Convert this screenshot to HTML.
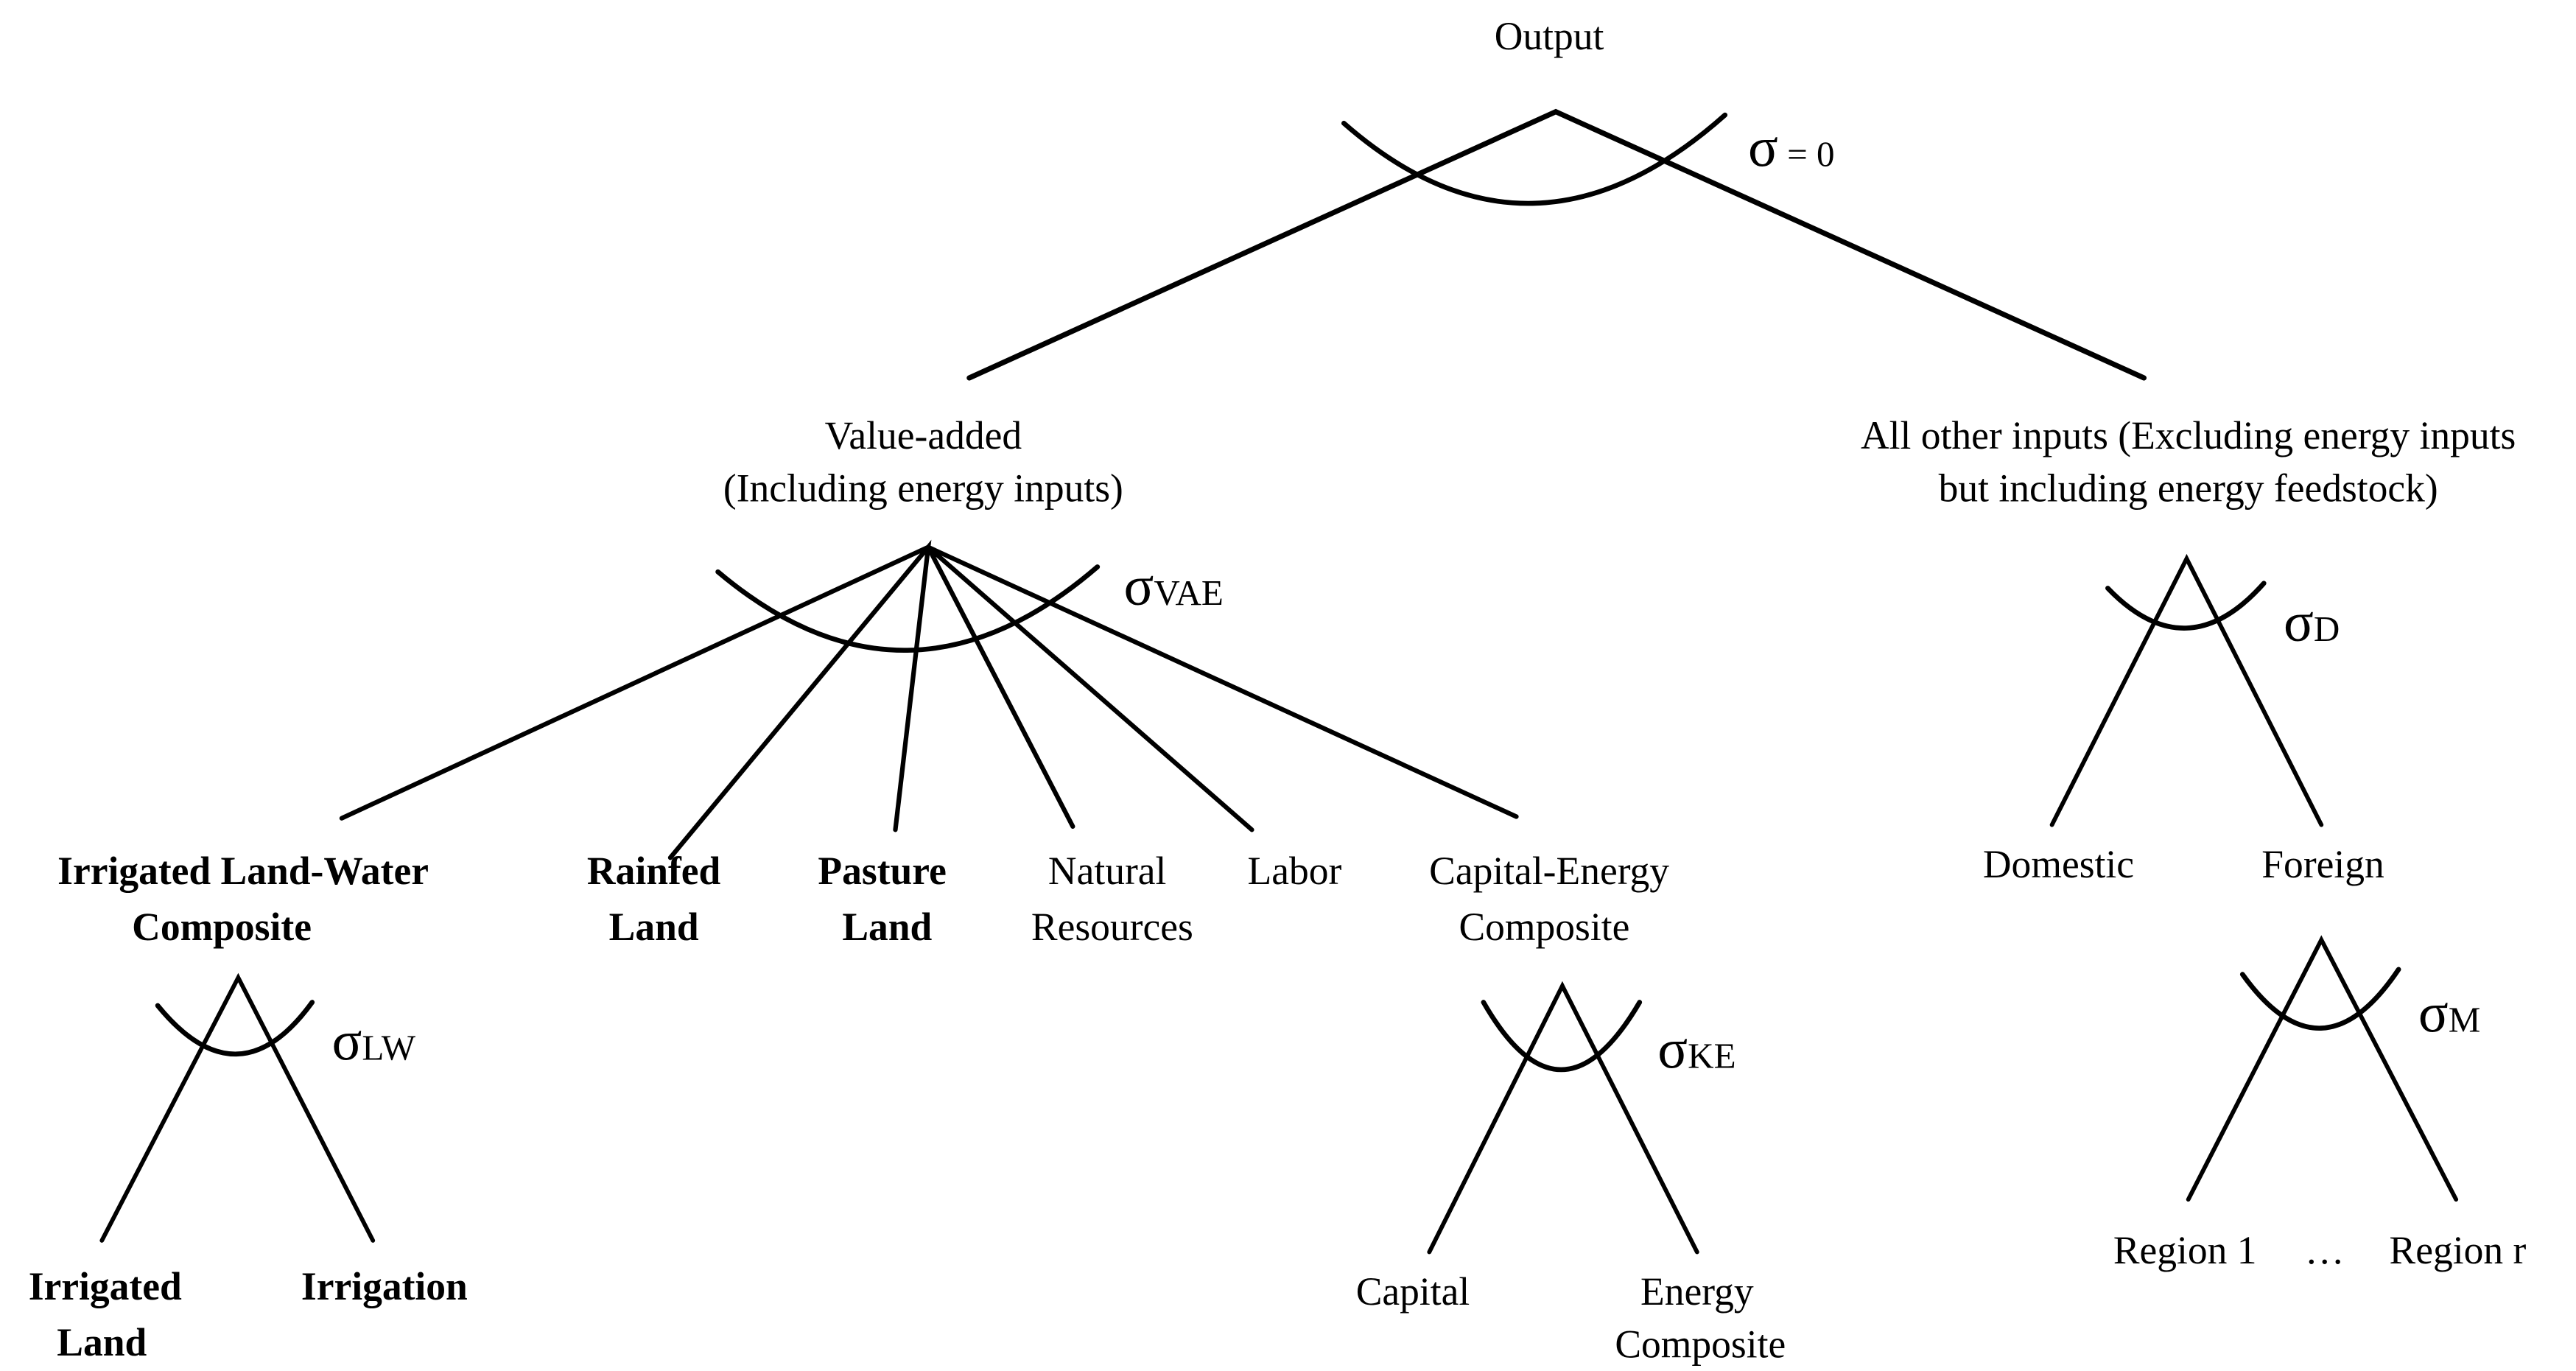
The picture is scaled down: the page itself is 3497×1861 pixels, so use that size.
<!DOCTYPE html>
<html><head><meta charset="utf-8"><style>
html,body{margin:0;padding:0;background:#fff;}
svg{display:block;}
text{font-family:"Liberation Serif",serif;fill:#000;}
.b{font-weight:bold;}
</style></head><body>
<svg width="3497" height="1861" viewBox="0 0 1568 834.4" preserveAspectRatio="none" xmlns="http://www.w3.org/2000/svg">
<g stroke="#000" fill="none" stroke-linecap="round">
<!-- top -->
<path d="M590,230 L947,68 L1305,230" stroke-width="3.2"/>
<path d="M818,75 Q932,175 1050,70" stroke-width="3"/>
<!-- VAE -->
<g stroke-width="2.8">
<path d="M208,498 L565,333 L923,497"/>
<path d="M408,522 L565,333 L545,505"/>
<path d="M653,503 L565,333 L762,505"/>
</g>
<path d="M437,348 Q552,445 668,345" stroke-width="3"/>
<!-- D -->
<path d="M1249,502 L1331,340 L1413,502" stroke-width="2.6"/>
<path d="M1283,358 Q1331,408 1378,355" stroke-width="3"/>
<!-- M -->
<path d="M1332,730 L1413,572 L1495,730" stroke-width="2.6"/>
<path d="M1365,593 Q1413,660 1460,590" stroke-width="3"/>
<!-- LW -->
<path d="M62,755 L145,595 L227,755" stroke-width="2.6"/>
<path d="M96,612 Q145,672 190,610" stroke-width="3"/>
<!-- KE -->
<path d="M870,762 L951,600 L1033,762" stroke-width="2.6"/>
<path d="M903,610 Q950,692 998,610" stroke-width="3"/>
</g>
<g font-size="24" text-anchor="middle">
<text x="943" y="30">Output</text>
<text x="562" y="273">Value-added</text>
<text x="562" y="305">(Including energy inputs)</text>
<text x="1332" y="273">All other inputs (Excluding energy inputs</text>
<text x="1332" y="305">but including energy feedstock)</text>
<text class="b" x="148" y="538">Irrigated Land-Water</text>
<text class="b" x="135" y="572">Composite</text>
<text class="b" x="398" y="538">Rainfed</text>
<text class="b" x="398" y="572">Land</text>
<text class="b" x="537" y="538">Pasture</text>
<text class="b" x="540" y="572">Land</text>
<text x="674" y="538">Natural</text>
<text x="677" y="572">Resources</text>
<text x="788" y="538">Labor</text>
<text x="943" y="538">Capital-Energy</text>
<text x="940" y="572">Composite</text>
<text x="1253" y="534">Domestic</text>
<text x="1414" y="534">Foreign</text>
<text x="1330" y="769">Region 1</text>
<text x="1415" y="769">…</text>
<text x="1496" y="769">Region r</text>
<text class="b" x="64" y="791">Irrigated</text>
<text class="b" x="62" y="825">Land</text>
<text class="b" x="234" y="791">Irrigation</text>
<text x="860" y="794">Capital</text>
<text x="1033" y="794">Energy</text>
<text x="1035" y="826">Composite</text>
</g>
<g font-size="22">
<text x="1064" y="101"><tspan font-size="34">σ</tspan> = 0</text>
<text x="684" y="368"><tspan font-size="34">σ</tspan>VAE</text>
<text x="1390" y="390"><tspan font-size="34">σ</tspan>D</text>
<text x="1472" y="628"><tspan font-size="34">σ</tspan>M</text>
<text x="202" y="645"><tspan font-size="34">σ</tspan>LW</text>
<text x="1009" y="650"><tspan font-size="34">σ</tspan>KE</text>
</g>
</svg>
</body></html>
